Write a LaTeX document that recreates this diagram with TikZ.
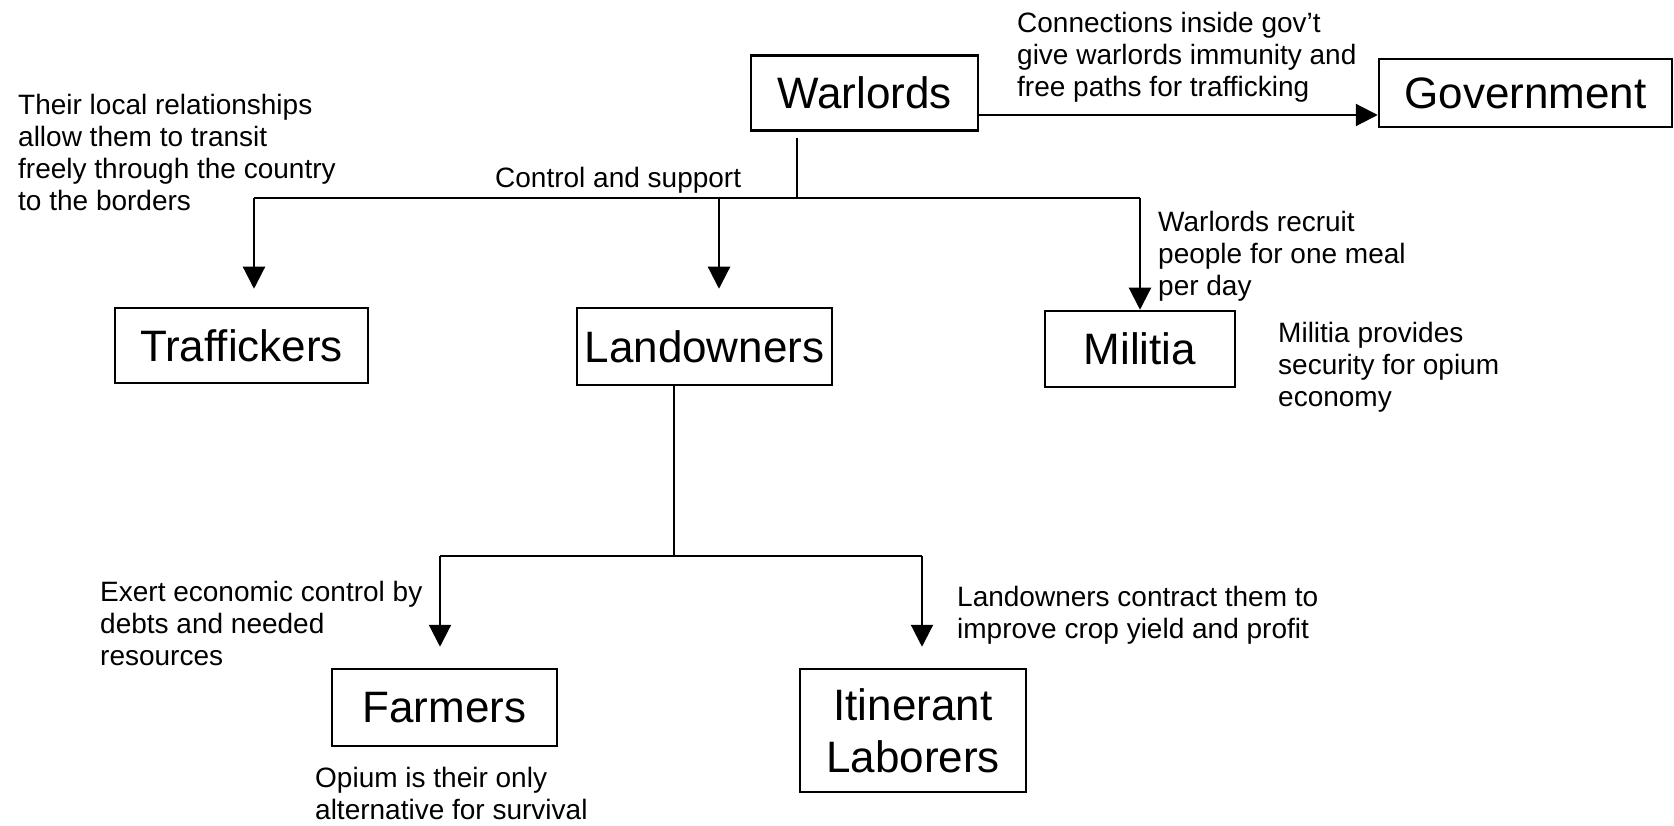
\documentclass[tikz,border=0pt]{standalone}
\usepackage{fontspec}
\setmainfont{Liberation Sans}
\usetikzlibrary{arrows.meta}
\begin{document}
\begin{tikzpicture}[x=1pt, y=-1pt,
	box/.style={draw=black, line width=2.5pt, inner sep=0pt, align=center, font=\fontsize{44}{52}\selectfont},
	note/.style={anchor=north west, inner sep=0pt, align=left, font=\fontsize{28}{32}\selectfont},
	link/.style={line width=2.2pt},
	arr/.style={line width=2.2pt, -{Triangle[length=22pt, width=22pt]}}]
	\useasboundingbox (0,0) rectangle (1674,826);
	\node[box, minimum width=227pt, minimum height=75pt] (warlords) at (864.5,93) {Warlords};
	\node[box, minimum width=293pt, minimum height=68pt] (government) at (1525.5,93) {Government};
	\node[box, minimum width=253pt, minimum height=75pt] (traffickers) at (241.5,345.5) {Traffickers};
	\node[box, minimum width=255pt, minimum height=77pt] (landowners) at (704.5,346.5) {Landowners};
	\node[box, minimum width=190pt, minimum height=76pt] (militia) at (1140,349) {Militia};
	\node[box, minimum width=225pt, minimum height=77pt] (farmers) at (444.5,707.5) {Farmers};
	\node[box, minimum width=226pt, minimum height=123pt] (itinerant) at (913,730.5) {Itinerant\\Laborers};
	\coordinate (hub) at (797,198);
	\coordinate (tdrop) at (254,198);
	\coordinate (ldrop) at (719,198);
	\draw[link] ([yshift=-6pt]warlords.south -| hub) -- (hub);
	\draw[link] (tdrop) -- (hub -| militia.north);
	\draw[arr] (tdrop) -- ([yshift=18pt]traffickers.north -| tdrop);
	\draw[arr] (ldrop) -- ([yshift=18pt]landowners.north -| ldrop);
	\draw[arr] (hub -| militia.north) -- (militia.north);
	\draw[arr] ([yshift=-22pt]warlords.east) -- ([yshift=-22pt]warlords.east -| government.west);
	\coordinate (lhub) at (674,556);
	\coordinate (fdrop) at (440,556);
	\coordinate (idrop) at (922,556);
	\draw[link] (landowners.south -| lhub) -- (lhub);
	\draw[link] (fdrop) -- (idrop);
	\draw[arr] (fdrop) -- ([yshift=21pt]farmers.north -| fdrop);
	\draw[arr] (idrop) -- ([yshift=21pt]itinerant.north -| idrop);
	\node[note] (conn) at (1017,12) {Connections inside gov't\\give warlords immunity and\\free paths for trafficking};
	\node[note] (relate) at (18,94) {Their local relationships\\allow them to transit\\freely through the country\\to the borders};
	\node[note] (ctrl) at (495,167) {Control and support};
	\node[note] (recruit) at (1158,211) {Warlords recruit\\people for one meal\\per day};
	\node[note] (secure) at (1278,322) {Militia provides\\security for opium\\economy};
	\node[note] (exert) at (100,581) {Exert economic control by\\debts and needed\\resources};
	\node[note] (contract) at (957,586) {Landowners contract them to\\improve crop yield and profit};
	\node[note] (opium) at (315,767) {Opium is their only\\alternative for survival};
\end{tikzpicture}
\end{document}
